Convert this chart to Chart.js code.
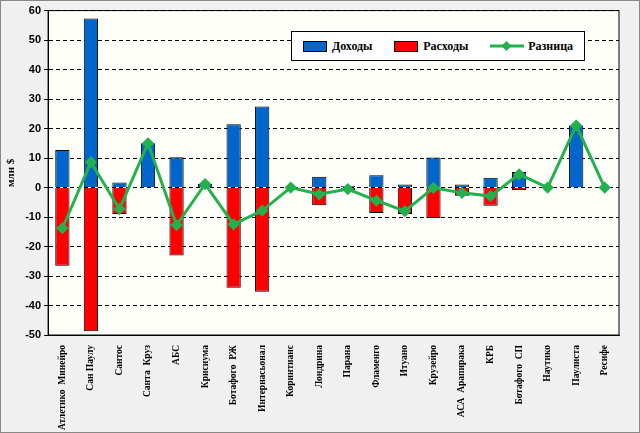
<!DOCTYPE html>
<html>
<head>
<meta charset="utf-8">
<script src="https://cdn.jsdelivr.net/npm/chart.js@4"></script>
<style>
body{margin:0;background:#f0f0f0}
#wrap{position:relative;width:638px;height:431px;border:1px solid #888;background:#f0f0f0}
#leg{position:absolute;left:290px;top:30px;width:292px;height:28px;background:#fff;border:1px solid #000;font:bold 12px "Liberation Serif";display:flex;align-items:center;justify-content:space-around}
#leg span{display:inline-flex;align-items:center}
.sw{display:inline-block;width:22px;height:9px;border:1px solid #000;margin-right:5px}
</style>
</head>
<body>
<div id="wrap">
<canvas id="c" width="638" height="431"></canvas>
<div id="leg">
<span><i class="sw" style="background:#0066cc"></i>Доходы</span>
<span><i class="sw" style="background:#ff0000"></i>Расходы</span>
<span><svg width="34" height="10" style="margin-right:4px"><line x1="0" y1="5" x2="34" y2="5" stroke="#22b14c" stroke-width="3"/><rect x="13" y="1.5" width="7" height="7" fill="#22b14c" transform="rotate(45 16.5 5)"/></svg>Разница</span>
</div>
</div>
<script>
var categories = ['Атлетико  Минейро','Сан Паулу','Сантос','Санта  Круз','АБС','Крисиума','Ботафого  РЖ','Интернасьонал','Коринтианс','Лондрина','Парана','Фламенго','Итуано','Крузейро','АСА  Арапирака','КРБ','Ботафого  СП','Наутико','Паулиста','Ресифе'];
var income = [12.7, 57.3, 1.7, 15.0, 10.3, 1.2, 21.5, 27.5, 0, 3.7, 0.5, 4.2, 1.0, 10.2, 1.0, 3.3, 5.3, 0, 21.0, 0];
var expense = [-26.5, -48.7, -9.0, 0, -23.0, 0, -34.0, -35.3, 0, -6.0, -1.0, -8.6, -9.0, -10.3, -2.8, -6.2, -0.8, 0, 0, 0];
var diff = [-13.8, 8.6, -7.3, 15.0, -12.7, 1.2, -12.5, -7.8, 0, -2.3, -0.5, -4.4, -8.0, -0.1, -1.8, -2.9, 4.5, 0, 21.0, 0];

var plotBg = {
  id: 'plotBg',
  beforeDraw: function (chart) {
    var a = chart.chartArea, ctx = chart.ctx;
    ctx.save();
    ctx.fillStyle = '#fffffa';
    ctx.fillRect(a.left, a.top, a.right - a.left, a.bottom - a.top);
    ctx.strokeStyle = '#000';
    ctx.strokeRect(a.left, a.top, a.right - a.left, a.bottom - a.top);
    ctx.restore();
  }
};

new Chart(document.getElementById('c'), {
  type: 'bar',
  data: {
    labels: categories,
    datasets: [
      {type: 'line', label: 'Разница', data: diff, stack: 'l', borderColor: '#22b14c', backgroundColor: '#22b14c', borderWidth: 3, pointStyle: 'rectRot', pointRadius: 4, order: 0},
      {label: 'Доходы', data: income, stack: 's', backgroundColor: '#0066cc', borderColor: '#000', borderWidth: 1, order: 1},
      {label: 'Расходы', data: expense, stack: 's', backgroundColor: '#ff0000', borderColor: '#000', borderWidth: 1, order: 1}
    ]
  },
  options: {
    responsive: false,
    animation: false,
    layout: {padding: {top: 4, right: 20, bottom: 0}},
    datasets: {bar: {categoryPercentage: 0.5, barPercentage: 1}},
    plugins: {legend: {display: false}, tooltip: {enabled: false}},
    scales: {
      x: {
        stacked: true,
        grid: {display: false},
        border: {color: '#000'},
        ticks: {color: '#000', padding: 2, font: {family: 'Liberation Serif', weight: 'bold', size: 9.5}, maxRotation: 90, minRotation: 90, autoSkip: false}
      },
      y: {
        stacked: true,
        min: -50, max: 60,
        ticks: {stepSize: 10, color: '#000', font: {family: 'Liberation Sans', weight: 'bold', size: 11}},
        grid: {color: '#000', tickLength: 4},
        border: {color: '#000', dash: [4, 3]},
        title: {display: true, text: 'млн $', color: '#000', font: {family: 'Liberation Serif', weight: 'bold', size: 11}}
      }
    }
  },
  plugins: [plotBg]
});
</script>
</body>
</html>
